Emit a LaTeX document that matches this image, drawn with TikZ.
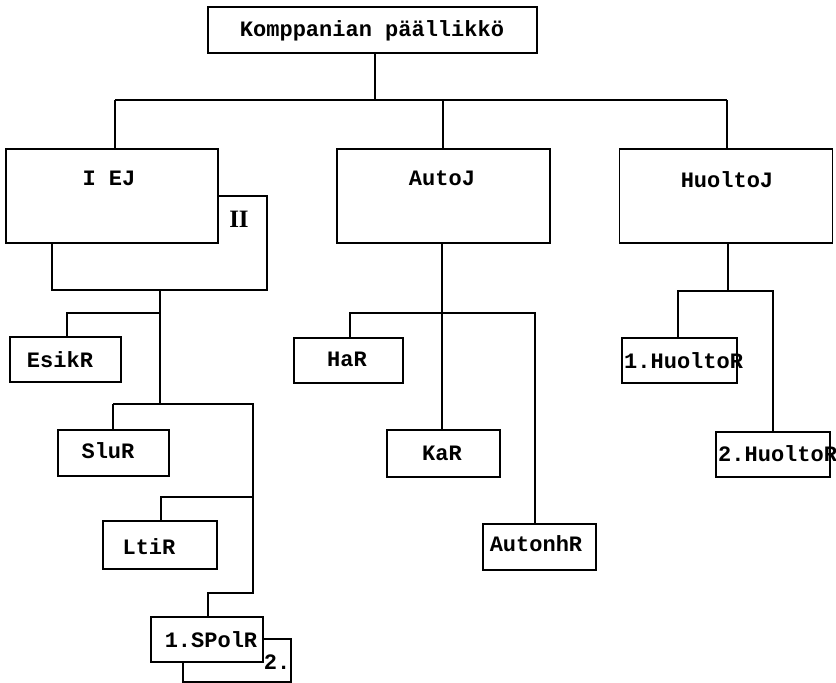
\documentclass[tikz,border=0pt]{standalone}
\usepackage{fontspec}
\setmonofont{Liberation Mono}
\newfontfamily\romfont{Liberation Serif}
\begin{document}
\begin{tikzpicture}[x=1pt,y=-1pt,
  box/.style={draw, line width=1.4pt, fill=white, rectangle, inner sep=0pt},
  lbl/.style={inner sep=0pt, font=\fontsize{22}{26}\selectfont\ttfamily\bfseries},
  conn/.style={line width=1.4pt}]
\useasboundingbox (0,0) rectangle (836,683);
% boxes
\node[box, minimum width=329pt, minimum height=46pt] (top) at (372.5,30) {};
\node[box, minimum width=215pt, minimum height=94pt] (II) at (159.5,243) {};
\node[box, minimum width=212pt, minimum height=94pt] (IEJ) at (112,196) {};
\node[box, minimum width=213pt, minimum height=94pt] (AutoJ) at (443.5,196) {};
\node[box, minimum width=213pt, minimum height=94pt] (HuoltoJ) at (726,196) {};
\node[box, minimum width=111pt, minimum height=45pt] (EsikR) at (65.5,359.5) {};
\node[box, minimum width=111pt, minimum height=46pt] (SluR) at (113.5,453) {};
\node[box, minimum width=114pt, minimum height=48pt] (LtiR) at (160,545) {};
\node[box, minimum width=108pt, minimum height=43pt] (SPol2) at (237,660.5) {};
\node[box, minimum width=112pt, minimum height=45pt] (SPol1) at (207,639.5) {};
\node[box, minimum width=109pt, minimum height=45pt] (HaR) at (348.5,360.5) {};
\node[box, minimum width=113pt, minimum height=47pt] (KaR) at (443.5,453.5) {};
\node[box, minimum width=113pt, minimum height=46pt] (AutonhR) at (539.5,547) {};
\node[box, minimum width=115pt, minimum height=45pt] (Huolto1) at (679.5,360.5) {};
\node[box, minimum width=114pt, minimum height=45pt] (Huolto2) at (773,454.5) {};
% labels
\node[lbl] (tTop) at (372,31) {Komppanian päällikkö};
\node[lbl] (tIEJ) at (109,178) {I EJ};
\node[inner sep=0pt, font=\fontsize{25}{28}\selectfont\romfont\bfseries] (tII) at (239,219) {II};
\node[lbl] (tAutoJ) at (442,178) {AutoJ};
\node[lbl] (tHuoltoJ) at (727,180) {HuoltoJ};
\node[lbl] (tEsikR) at (60,360) {EsikR};
\node[lbl] (tSluR) at (108,451) {SluR};
\node[lbl] (tLtiR) at (149,547) {LtiR};
\node[lbl] (tSPol1) at (211,640) {1.SPolR};
\node[lbl] (tSPol2) at (277,662) {2.};
\node[lbl] (tHaR) at (347,359) {HaR};
\node[lbl] (tKaR) at (442,453) {KaR};
\node[lbl] (tAutonhR) at (536,544) {AutonhR};
\node[lbl, anchor=west] (tH1) at (624,361) {1.HuoltoR};
\node[lbl, anchor=west] (tH2) at (718,454) {2.HuoltoR};
% junctions
\coordinate (j0) at (375,100);
\coordinate (jL) at (115,100);
\coordinate (jR) at (727,100);
\coordinate (jA) at (443,100);
\coordinate (e1) at (67,313);
\coordinate (e2) at (160,313);
\coordinate (s1) at (113,404);
\coordinate (s2) at (253,404);
\coordinate (l1) at (161,497);
\coordinate (l2) at (253,497);
\coordinate (p1) at (208,593);
\coordinate (p2) at (253,593);
\coordinate (h1) at (350,313);
\coordinate (h2) at (535,313);
\coordinate (u0) at (728,291);
\coordinate (u1) at (678,291);
\coordinate (u2) at (773,291);
% connectors
\draw[conn] (top.south -| j0) -- (j0);
\draw[conn] (jL) -- (jR);
\draw[conn] (jL) -- (jL |- IEJ.north);
\draw[conn] (jA) -- (jA |- AutoJ.north);
\draw[conn] (jR) -- (jR |- HuoltoJ.north);
% I EJ branch
\draw[conn] (II.south -| e2) -- (e2 |- s1);
\draw[conn] (e2) -- (e1) -- (e1 |- EsikR.north);
\draw[conn] (s1) -- (s2) -- (p2) -- (p1) -- (p1 |- SPol1.north);
\draw[conn] (s1) -- (s1 |- SluR.north);
\draw[conn] (l2) -- (l1) -- (l1 |- LtiR.north);
% AutoJ branch
\draw[conn] (AutoJ.south -| 442,0) -- (KaR.north -| 442,0);
\draw[conn] (h1 |- HaR.north) -- (h1) -- (h2) -- (h2 |- AutonhR.north);
% HuoltoJ branch
\draw[conn] (HuoltoJ.south -| u0) -- (u0);
\draw[conn] (u1 |- Huolto1.north) -- (u1) -- (u2) -- (u2 |- Huolto2.north);
\end{tikzpicture}
\end{document}
